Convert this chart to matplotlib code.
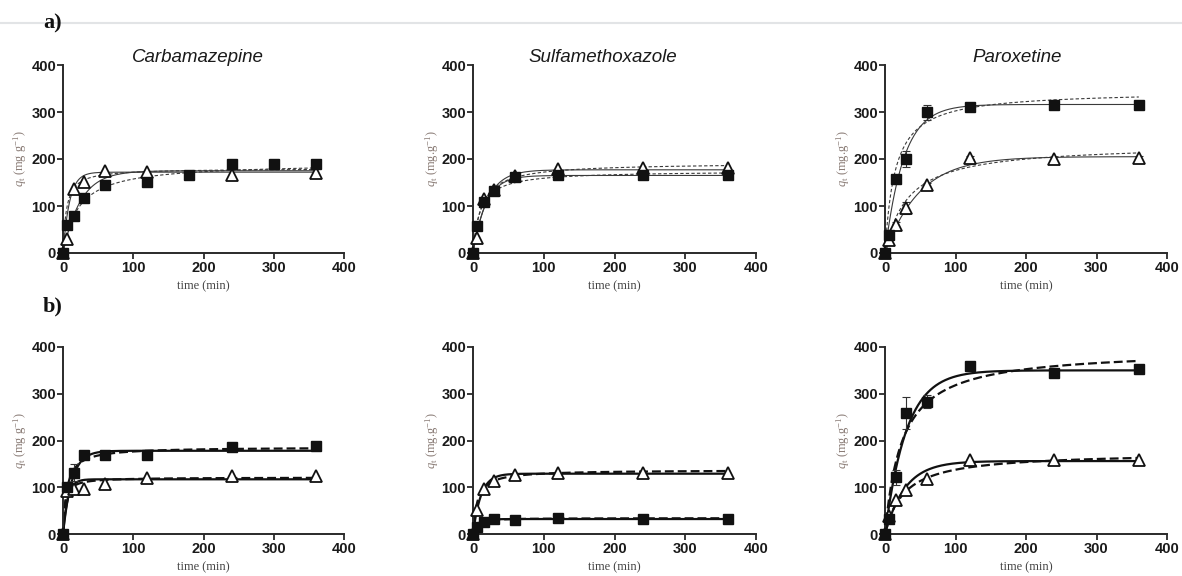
import numpy as np
import matplotlib
matplotlib.use("Agg")
import matplotlib.pyplot as plt
from matplotlib.lines import Line2D

plt.rcParams["mathtext.fontset"] = "custom"
plt.rcParams["mathtext.rm"] = "Liberation Serif"
plt.rcParams["mathtext.it"] = "Liberation Serif:italic"

# ---------------- data ----------------
titles = ["Carbamazepine", "Sulfamethoxazole", "Paroxetine"]
row_labels = ["a)", "b)"]
xticks = [0, 100, 200, 300, 400]
yticks = [0, 100, 200, 300, 400]

# row a) experimental points
a_carb_sq_t = [0, 5, 15, 30, 60, 120, 180, 240, 300, 360]
a_carb_sq_q = [0, 60, 78, 117, 144, 151, 166, 189, 189, 189]
a_carb_tr_t = [0, 5, 15, 30, 60, 120, 240, 360]
a_carb_tr_q = [0, 30, 137, 152, 175, 173, 167, 170]

a_sulf_sq_t = [0, 5, 15, 30, 60, 120, 240, 360]
a_sulf_sq_q = [0, 58, 108, 131, 161, 166, 166, 166]
a_sulf_tr_t = [0, 5, 15, 30, 60, 120, 240, 360]
a_sulf_tr_q = [0, 32, 115, 133, 163, 179, 180, 180]

a_parox_sq_t = [0, 5, 15, 30, 60, 120, 240, 360]
a_parox_sq_q = [0, 39, 157, 200, 299, 310, 315, 315]
a_parox_sq_err = [0, 5, 6, 17, 15, 4, 4, 4]
a_parox_tr_t = [0, 5, 15, 30, 60, 120, 240, 360]
a_parox_tr_q = [0, 28, 60, 96, 144, 203, 200, 202]
a_parox_tr_err = [0, 4, 5, 12, 6, 4, 4, 4]

# row b) experimental points
b_carb_sq_t = [0, 5, 15, 30, 60, 120, 240, 360]
b_carb_sq_q = [0, 100, 131, 169, 170, 169, 187, 189]
b_carb_sq_err = [0, 6, 18, 5, 4, 4, 4, 4]
b_carb_tr_t = [0, 5, 15, 30, 60, 120, 240, 360]
b_carb_tr_q = [0, 91, 97, 97, 107, 119, 125, 125]

b_sulf_sq_t = [0, 5, 15, 30, 60, 120, 240, 360]
b_sulf_sq_q = [0, 15, 25, 33, 30, 34, 32, 32]
b_sulf_tr_t = [0, 5, 15, 30, 60, 120, 240, 360]
b_sulf_tr_q = [0, 52, 96, 113, 127, 130, 130, 130]

b_parox_sq_t = [0, 5, 15, 30, 60, 120, 240, 360]
b_parox_sq_q = [0, 32, 121, 258, 283, 359, 345, 352]
b_parox_sq_err = [0, 8, 16, 34, 14, 4, 4, 4]
b_parox_tr_t = [0, 5, 15, 30, 60, 120, 240, 360]
b_parox_tr_q = [0, 39, 73, 94, 118, 158, 158, 158]

# fitted kinetic parameters: pseudo-first order (qe, k1) and pseudo-second order (qe, k2)
a_pfo_sq = [(175, 0.040), (165, 0.055), (316, 0.038)]
a_pso_sq = [(192, 2.37e-4), (175, 5.7e-4), (345, 2.05e-4)]
a_pfo_tr = [(172, 0.107), (177, 0.050), (205, 0.0204)]
a_pso_tr = [(180, 1.17e-3), (192, 4.5e-4), (232, 1.34e-4)]

b_pfo_sq = [(178, 0.080), (32, 0.12), (350, 0.033)]
b_pso_sq = [(186, 1.0e-3), (34, 8e-3), (395, 1.05e-4)]
b_pfo_tr = [(117, 0.15), (129, 0.09), (156, 0.035)]
b_pso_tr = [(121, 3e-3), (137, 1.2e-3), (175, 2.1e-4)]

rows = [
    [
        (a_carb_sq_t, a_carb_sq_q, None, a_carb_tr_t, a_carb_tr_q, None),
        (a_sulf_sq_t, a_sulf_sq_q, None, a_sulf_tr_t, a_sulf_tr_q, None),
        (a_parox_sq_t, a_parox_sq_q, a_parox_sq_err, a_parox_tr_t, a_parox_tr_q, a_parox_tr_err),
    ],
    [
        (b_carb_sq_t, b_carb_sq_q, b_carb_sq_err, b_carb_tr_t, b_carb_tr_q, None),
        (b_sulf_sq_t, b_sulf_sq_q, None, b_sulf_tr_t, b_sulf_tr_q, None),
        (b_parox_sq_t, b_parox_sq_q, b_parox_sq_err, b_parox_tr_t, b_parox_tr_q, None),
    ],
]
fits = [
    (a_pfo_sq, a_pso_sq, a_pfo_tr, a_pso_tr),
    (b_pfo_sq, b_pso_sq, b_pfo_tr, b_pso_tr),
]


def pfo(t, qe, k):
    return qe * (1 - np.exp(-k * t))


def pso(t, qe, k):
    return qe * qe * k * t / (1 + qe * k * t)


# ---------------- figure ----------------
W, H = 1182, 576
fig = plt.figure(figsize=(W / 100, H / 100), dpi=100)
fig.patch.set_facecolor("white")

col_x = [(63, 344), (473, 756), (885, 1167)]
row_y = [(65, 253), (347, 534)]
ylabel_x = [20, 432, 843]
ylabels = [r"$q_{\mathrm{t}}$ (mg g$^{\mathrm{-1}}$)",
           r"$q_{\mathrm{t}}$ (mg.g$^{\mathrm{-1}}$)",
           r"$q_{\mathrm{t}}$ (mg.g$^{\mathrm{-1}}$)"]

axis_col = "#2a2a2a"
tick_font = dict(family="Liberation Sans", weight="bold", size=10.5)

tt = np.linspace(0, 360, 400)

for r in range(2):
    lw_fit = 0.8 if r == 0 else 1.6
    fit_col = "#3a3a3a" if r == 0 else "#111111"
    dash = (3, 2) if r == 0 else (4, 1.8)
    for c in range(3):
        x0, x1 = col_x[c]
        y0, y1 = row_y[r]
        ax = fig.add_axes([x0 / W, 1 - y1 / H, (x1 - x0) / W, (y1 - y0) / H])
        ax.set_xlim(0, 400)
        ax.set_ylim(0, 400)
        for s in ["top", "right"]:
            ax.spines[s].set_visible(False)
        for s in ["left", "bottom"]:
            ax.spines[s].set_linewidth(1.4)
            ax.spines[s].set_color(axis_col)
        ax.set_xticks(xticks)
        ax.set_yticks(yticks)
        ax.tick_params(direction="out", length=4.5, width=1.3, color=axis_col, pad=1.5)
        ax.set_xticklabels([str(v) for v in xticks], fontdict=tick_font, color="#1a1a1a")
        ax.set_yticklabels([str(v) for v in yticks], fontdict=tick_font, color="#1a1a1a")
        ax.tick_params(axis="y", pad=0.5)

        pfo_sq, pso_sq, pfo_tr, pso_tr = fits[r]
        ax.plot(tt, pfo(tt, *pfo_sq[c]), color=fit_col, lw=lw_fit, zorder=2)
        ax.plot(tt, pso(tt, *pso_sq[c]), color=fit_col, lw=lw_fit, ls=(0, dash), zorder=2)
        ax.plot(tt, pfo(tt, *pfo_tr[c]), color=fit_col, lw=lw_fit, zorder=2)
        ax.plot(tt, pso(tt, *pso_tr[c]), color=fit_col, lw=lw_fit, ls=(0, dash), zorder=2)

        st, sq, se, trt, trq, tre = rows[r][c]
        if se is not None:
            ax.errorbar(st, sq, yerr=se, fmt="none", ecolor="#333333", elinewidth=0.8,
                        capsize=3, capthick=0.8, zorder=3, clip_on=False)
        if tre is not None:
            ax.errorbar(trt, trq, yerr=tre, fmt="none", ecolor="#333333", elinewidth=0.8,
                        capsize=3, capthick=0.8, zorder=3, clip_on=False)
        ax.plot(st, sq, ls="none", marker="s", ms=7, color="#111111", mec="#111111",
                zorder=5, clip_on=False)
        ax.plot(trt, trq, ls="none", marker="^", ms=8.5, mfc="white", mec="#111111",
                mew=1.3, zorder=4, clip_on=False)

        # axis labels
        fig.text((x0 + x1) / 2 / W, 1 - (y1 + 33) / H, "time (min)",
                 family="Liberation Serif", size=9, color="#444444",
                 ha="center", va="center")
        fig.text(ylabel_x[c] / W, 1 - (y0 + y1) / 2 / H, ylabels[c],
                 family="Liberation Serif", size=9, color="#8a7c76",
                 rotation=90, ha="center", va="center")

# titles
title_x = [198, 603, 1017]
for c in range(3):
    fig.text(title_x[c] / W, 1 - 58 / H, titles[c], family="Liberation Sans",
             style="italic", size=13.5, color="#1a1a1a", ha="center", va="center")

# panel labels
fig.text(43 / W, 1 - 23 / H, row_labels[0], family="Liberation Serif", weight="bold",
         size=16, color="#111111", ha="left", va="center")
fig.text(43 / W, 1 - 306 / H, row_labels[1], family="Liberation Serif", weight="bold",
         size=16, color="#111111", ha="left", va="center")

# faint top rule
fig.add_artist(Line2D([0, 1], [1 - 23 / H, 1 - 23 / H], color="#e2e4e6", lw=1.5,
                      transform=fig.transFigure, zorder=0))

fig.savefig("out.png", dpi=100, facecolor="white")
